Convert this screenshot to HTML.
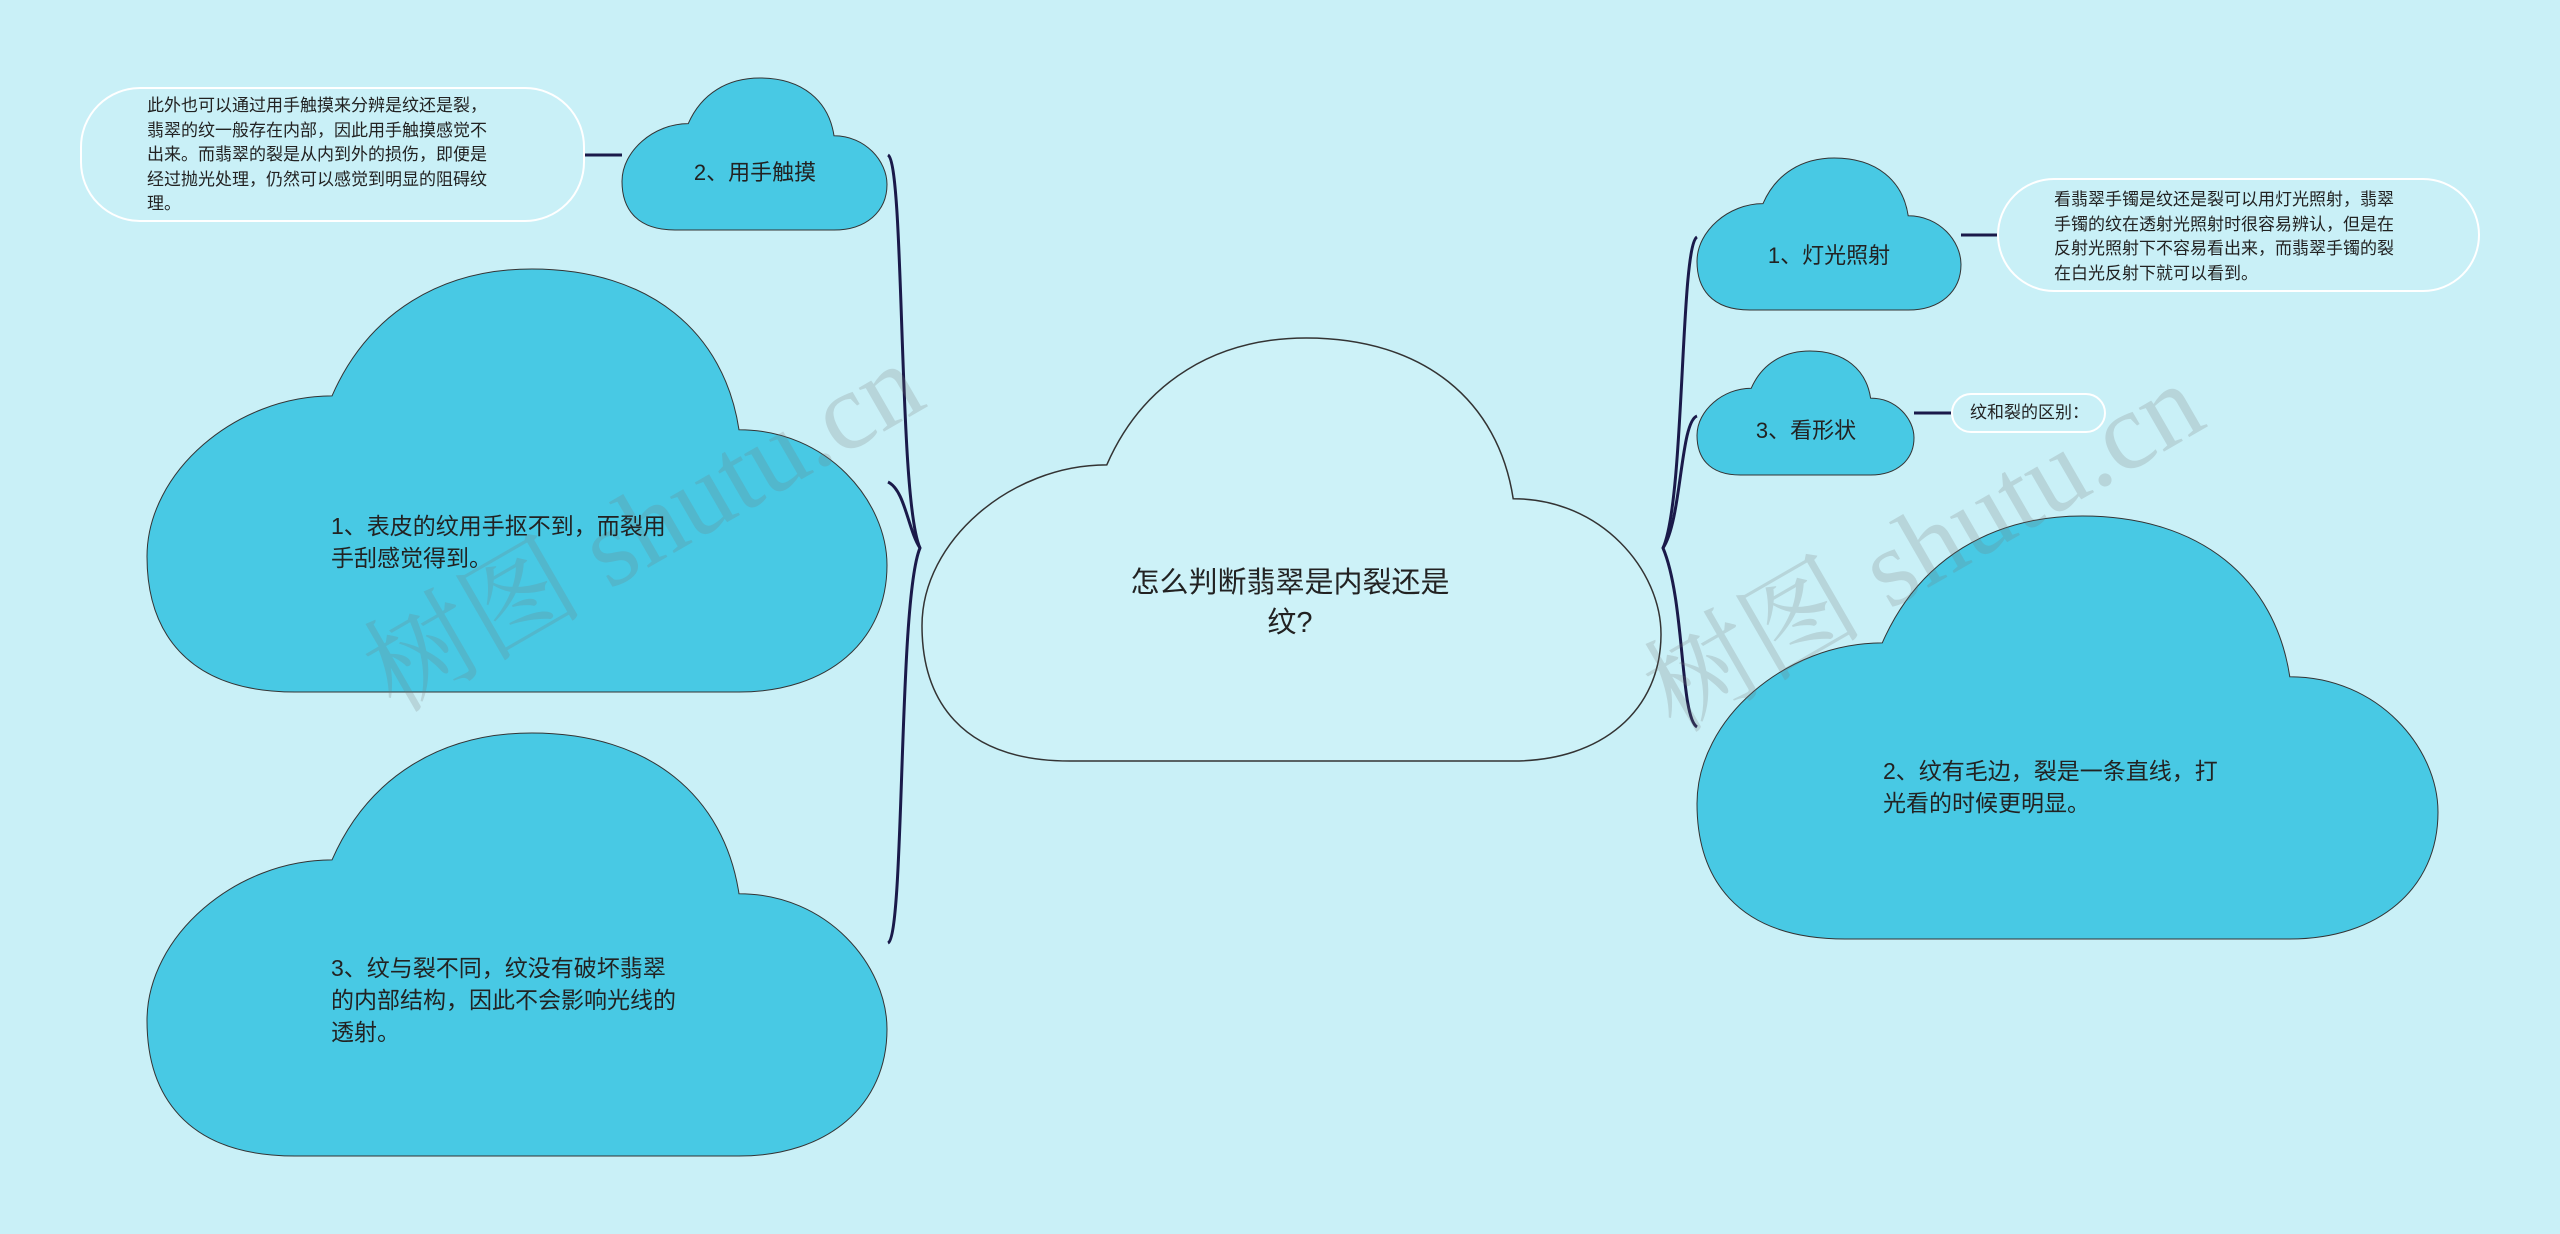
<!DOCTYPE html>
<html><head><meta charset="utf-8">
<style>
html,body{margin:0;padding:0}
body{width:2560px;height:1234px;background:#C9F0F7;position:relative;overflow:hidden;font-family:"Liberation Sans","Noto Sans CJK SC",sans-serif;color:#222}
svg{position:absolute;left:0;top:0}
.t{position:absolute;line-height:1.38}
.note{position:absolute;border:2px solid #fff;border-radius:60px;box-sizing:border-box}
.wm{position:absolute;font-size:110px;color:rgba(120,120,120,0.22);font-family:"Liberation Serif","Noto Serif CJK SC",serif;transform:rotate(-30deg);white-space:nowrap}
</style></head><body>
<svg width="2560" height="1234" viewBox="0 0 2560 1234">
<path vector-effect="non-scaling-stroke" stroke="#333" stroke-width="1.5" fill="#CDF2F8" transform="translate(922,338) scale(7.39,4.23)" d="M20,100 C5,100 0,85 0,68 C0,48 12,30 25,30 C30,10 40,0 52,0 C68,0 78,15 80,38 C92,38 100,55 100,70 C100,88 92,100 80,100 Z"/>
<g fill="#48C9E4" stroke="#333">
<path vector-effect="non-scaling-stroke" transform="translate(622,78) scale(2.65,1.52)" d="M20,100 C5,100 0,85 0,68 C0,48 12,30 25,30 C30,10 40,0 52,0 C68,0 78,15 80,38 C92,38 100,55 100,70 C100,88 92,100 80,100 Z"/>
<path vector-effect="non-scaling-stroke" transform="translate(147,269) scale(7.40,4.23)" d="M20,100 C5,100 0,85 0,68 C0,48 12,30 25,30 C30,10 40,0 52,0 C68,0 78,15 80,38 C92,38 100,55 100,70 C100,88 92,100 80,100 Z"/>
<path vector-effect="non-scaling-stroke" transform="translate(147,733) scale(7.40,4.23)" d="M20,100 C5,100 0,85 0,68 C0,48 12,30 25,30 C30,10 40,0 52,0 C68,0 78,15 80,38 C92,38 100,55 100,70 C100,88 92,100 80,100 Z"/>
<path vector-effect="non-scaling-stroke" transform="translate(1697,158) scale(2.64,1.52)" d="M20,100 C5,100 0,85 0,68 C0,48 12,30 25,30 C30,10 40,0 52,0 C68,0 78,15 80,38 C92,38 100,55 100,70 C100,88 92,100 80,100 Z"/>
<path vector-effect="non-scaling-stroke" transform="translate(1697,351) scale(2.17,1.24)" d="M20,100 C5,100 0,85 0,68 C0,48 12,30 25,30 C30,10 40,0 52,0 C68,0 78,15 80,38 C92,38 100,55 100,70 C100,88 92,100 80,100 Z"/>
<path vector-effect="non-scaling-stroke" transform="translate(1697,516) scale(7.41,4.23)" d="M20,100 C5,100 0,85 0,68 C0,48 12,30 25,30 C30,10 40,0 52,0 C68,0 78,15 80,38 C92,38 100,55 100,70 C100,88 92,100 80,100 Z"/>
</g>
<g fill="none" stroke="#1a1a4a" stroke-width="3">
<path d="M888,155 C905,165 898,500 920,548 C898,600 905,935 888,943"/>
<path d="M888,482 C905,490 908,530 920,548"/>
<path d="M1697,237 C1680,247 1685,500 1663,548 C1685,600 1680,717 1697,727"/>
<path d="M1697,416 C1680,422 1682,520 1663,548"/>
<path d="M585,155 L622,155"/>
<path d="M1961,235 L1997,235"/>
<path d="M1914,413 L1951,413"/>
</g>
</svg>
<div class="wm" style="left:330px;top:440px">树图 shutu.cn</div>
<div class="wm" style="left:1610px;top:460px">树图 shutu.cn</div>
<div class="note" style="left:80px;top:87px;width:505px;height:135px"></div>
<div class="t" style="left:147px;top:94px;font-size:17px;width:350px;line-height:24.5px">此外也可以通过用手触摸来分辨是纹还是裂，翡翠的纹一般存在内部，因此用手触摸感觉不出来。而翡翠的裂是从内到外的损伤，即便是经过抛光处理，仍然可以感觉到明显的阻碍纹理。</div>
<div class="note" style="left:1997px;top:178px;width:483px;height:114px"></div>
<div class="t" style="left:2054px;top:188px;font-size:17px;width:350px;line-height:24.5px">看翡翠手镯是纹还是裂可以用灯光照射，翡翠手镯的纹在透射光照射时很容易辨认，但是在反射光照射下不容易看出来，而翡翠手镯的裂在白光反射下就可以看到。</div>
<div class="note" style="left:1951px;top:393px;width:155px;height:40px;border-radius:20px"></div>
<div class="t" style="left:1970px;top:401px;font-size:17px">纹和裂的区别：</div>
<div class="t" style="left:1115px;top:563px;width:350px;font-size:29px;text-align:center">怎么判断翡翠是内裂还是纹?</div>
<div class="t" style="left:640px;top:158px;width:230px;text-align:center;font-size:22px">2、用手触摸</div>
<div class="t" style="left:1714px;top:241px;width:230px;text-align:center;font-size:22px">1、灯光照射</div>
<div class="t" style="left:1720px;top:416px;width:172px;text-align:center;font-size:22px">3、看形状</div>
<div class="t" style="left:331px;top:510px;width:350px;font-size:23px;line-height:32px">1、表皮的纹用手抠不到，而裂用手刮感觉得到。</div>
<div class="t" style="left:331px;top:952px;width:350px;font-size:23px;line-height:32px">3、纹与裂不同，纹没有破坏翡翠的内部结构，因此不会影响光线的透射。</div>
<div class="t" style="left:1883px;top:755px;width:350px;font-size:23px;line-height:32px">2、纹有毛边，裂是一条直线，打光看的时候更明显。</div>
</body></html>
